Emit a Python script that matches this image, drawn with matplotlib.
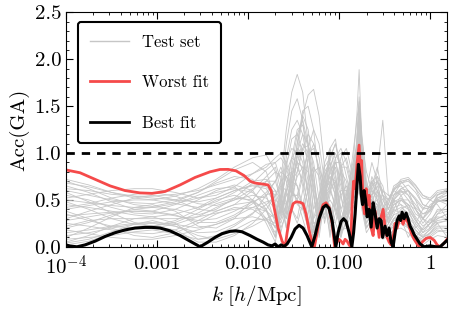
import numpy as np
import matplotlib
matplotlib.use("Agg")
import matplotlib.pyplot as plt
from matplotlib.ticker import FixedLocator, FixedFormatter, MultipleLocator

plt.rcParams['font.family'] = 'serif'
plt.rcParams['font.serif'] = ['cmr10']
plt.rcParams['mathtext.fontset'] = 'cm'
plt.rcParams['axes.formatter.use_mathtext'] = True

# log10(k) nodes shared by the test-set curves
test_logk = [-4.00, -3.75, -3.50, -3.25, -3.05, -2.80, -2.55, -2.35, -2.15, -1.95, -1.80,
             -1.70, -1.64, -1.58, -1.52, -1.46, -1.40, -1.34, -1.28, -1.22, -1.16,
             -1.10, -1.04, -0.98, -0.92, -0.86, -0.81, -0.78, -0.75, -0.70, -0.64,
             -0.58, -0.52, -0.46, -0.40, -0.32, -0.24, -0.16, -0.08, 0.00, 0.08, 0.19]

# test set accuracies (one row per curve)
test_acc = [
    [0.70,0.62,0.52,0.45,0.43,0.48,0.58,0.68,0.75,0.72,0.55, 0.25,0.70,1.25,1.65,1.84,1.65,1.10,0.30,0.40,0.80,0.90,0.60,0.10,0.50,0.80,0.90,1.20,0.80,0.40,0.70,0.50,0.20,0.50,0.60,0.55,0.40,0.20,0.30,0.45,0.50,0.45],
    [0.30,0.38,0.45,0.52,0.55,0.50,0.40,0.38,0.45,0.60,0.75, 0.85,0.60,0.20,0.50,1.00,1.40,1.62,1.68,1.40,0.85,0.20,0.45,0.85,0.95,0.70,0.60,1.30,0.90,0.50,0.20,0.35,0.60,0.55,0.50,0.30,0.10,0.25,0.40,0.50,0.45,0.30],
    [0.55,0.50,0.42,0.36,0.35,0.40,0.50,0.60,0.66,0.60,0.40, 0.10,0.55,1.10,1.45,1.58,1.35,0.80,0.15,0.50,0.90,1.05,0.80,0.30,0.40,0.90,1.30,1.89,1.10,0.60,0.90,0.70,0.40,0.30,0.50,0.60,0.50,0.35,0.30,0.40,0.55,0.60],
    [0.10,0.20,0.32,0.42,0.45,0.38,0.22,0.20,0.30,0.50,0.70, 0.80,0.75,0.45,0.70,1.10,1.40,1.25,0.80,0.20,0.55,0.95,1.10,0.80,0.35,0.60,0.95,1.40,1.00,0.50,0.30,0.60,0.45,0.25,0.40,0.55,0.60,0.50,0.30,0.20,0.35,0.45],
    [0.65,0.58,0.48,0.40,0.38,0.45,0.55,0.62,0.64,0.50,0.25, 0.05,0.40,0.85,1.15,1.20,1.00,0.55,0.05,0.45,0.75,0.85,0.60,0.15,0.55,0.80,1.00,1.35,0.85,0.40,0.65,0.85,0.55,0.25,0.35,0.50,0.45,0.30,0.15,0.25,0.40,0.40],
    [0.05,0.12,0.22,0.30,0.32,0.25,0.08,0.12,0.22,0.35,0.55, 0.70,0.85,0.70,0.40,0.30,0.60,0.95,1.10,0.95,0.55,0.10,0.50,0.80,0.70,0.40,0.80,1.10,0.70,0.30,0.55,0.40,0.15,0.35,0.50,0.45,0.30,0.10,0.20,0.30,0.25,0.10],
    [0.45,0.42,0.38,0.34,0.32,0.35,0.42,0.52,0.60,0.65,0.62, 0.45,0.20,0.35,0.80,1.05,1.00,0.70,0.25,0.30,0.70,1.00,0.95,0.55,0.20,0.65,1.05,1.55,0.95,0.45,0.75,0.60,0.30,0.45,0.65,0.70,0.60,0.40,0.25,0.35,0.50,0.55],
    [0.25,0.22,0.18,0.15,0.14,0.18,0.28,0.38,0.45,0.48,0.40, 0.20,0.50,0.80,0.95,0.90,0.65,0.30,0.10,0.40,0.65,0.75,0.55,0.20,0.35,0.60,0.75,0.95,0.70,0.30,0.50,0.40,0.20,0.30,0.40,0.35,0.25,0.15,0.10,0.20,0.30,0.35],
    [0.60,0.55,0.50,0.47,0.46,0.50,0.58,0.70,0.82,0.90,0.80, 0.50,0.15,0.40,0.85,1.20,1.35,1.10,0.60,0.15,0.60,1.05,1.15,0.75,0.25,0.70,1.10,1.60,1.20,0.70,0.40,0.75,0.65,0.40,0.55,0.68,0.72,0.62,0.45,0.42,0.55,0.62],
    [0.15,0.18,0.22,0.25,0.26,0.24,0.20,0.24,0.32,0.42,0.48, 0.50,0.45,0.30,0.55,0.75,0.85,0.80,0.55,0.25,0.35,0.60,0.70,0.55,0.30,0.45,0.70,0.85,0.60,0.35,0.45,0.50,0.35,0.20,0.30,0.40,0.45,0.40,0.30,0.25,0.30,0.35],
    [0.38,0.30,0.20,0.12,0.10,0.15,0.25,0.35,0.42,0.40,0.30, 0.15,0.35,0.60,0.70,0.65,0.45,0.20,0.15,0.35,0.55,0.60,0.45,0.15,0.25,0.45,0.60,0.80,0.55,0.25,0.40,0.30,0.15,0.20,0.30,0.30,0.20,0.10,0.05,0.15,0.25,0.28],
    [0.02,0.06,0.14,0.20,0.22,0.18,0.05,0.05,0.12,0.25,0.40, 0.55,0.70,0.75,0.65,0.45,0.40,0.60,0.80,0.85,0.65,0.30,0.25,0.55,0.65,0.50,0.55,0.75,0.55,0.20,0.30,0.25,0.10,0.15,0.25,0.28,0.22,0.12,0.08,0.12,0.18,0.15],
    [0.50,0.47,0.44,0.42,0.42,0.46,0.52,0.58,0.62,0.58,0.45, 0.30,0.55,0.95,1.25,1.35,1.20,0.85,0.40,0.55,0.85,0.95,0.75,0.40,0.55,0.85,1.05,1.20,0.90,0.55,0.60,0.55,0.35,0.40,0.55,0.60,0.55,0.45,0.35,0.38,0.48,0.52],
    [0.20,0.26,0.34,0.40,0.42,0.40,0.34,0.40,0.52,0.68,0.82, 0.90,0.95,0.85,0.60,0.50,0.75,1.05,1.25,1.10,0.70,0.30,0.60,0.95,1.05,0.80,0.90,1.15,0.85,0.45,0.70,0.60,0.40,0.50,0.62,0.65,0.55,0.40,0.30,0.38,0.50,0.48],
    [0.72,0.66,0.58,0.52,0.50,0.54,0.62,0.72,0.85,0.95,0.98, 0.80,0.45,0.20,0.60,1.00,1.20,1.10,0.75,0.35,0.45,0.85,1.00,0.85,0.50,0.60,0.95,1.25,0.95,0.60,0.70,0.75,0.55,0.45,0.60,0.70,0.72,0.65,0.55,0.50,0.58,0.60],
    [0.08,0.10,0.12,0.16,0.18,0.14,0.08,0.10,0.18,0.28,0.30, 0.25,0.40,0.55,0.60,0.50,0.30,0.10,0.20,0.40,0.50,0.45,0.25,0.10,0.30,0.45,0.50,0.60,0.40,0.15,0.25,0.20,0.08,0.12,0.18,0.20,0.15,0.05,0.02,0.08,0.12,0.10],
    [0.33,0.35,0.37,0.38,0.37,0.33,0.28,0.30,0.38,0.48,0.55, 0.60,0.50,0.45,0.65,0.90,1.05,0.95,0.65,0.30,0.50,0.80,0.90,0.70,0.45,0.50,0.80,1.05,0.75,0.40,0.55,0.65,0.45,0.35,0.45,0.50,0.50,0.42,0.35,0.40,0.48,0.50],
    [0.58,0.48,0.36,0.26,0.22,0.26,0.36,0.46,0.52,0.50,0.38, 0.20,0.30,0.65,0.95,1.05,0.90,0.55,0.15,0.30,0.65,0.80,0.65,0.25,0.30,0.60,0.85,1.10,0.80,0.35,0.50,0.45,0.20,0.30,0.45,0.50,0.42,0.28,0.18,0.25,0.35,0.38],
    [0.40,0.44,0.48,0.50,0.50,0.46,0.42,0.48,0.58,0.70,0.72, 0.60,0.40,0.30,0.60,0.95,1.10,1.00,0.70,0.35,0.40,0.70,0.85,0.65,0.40,0.70,1.35,1.50,1.15,0.80,0.60,0.80,1.35,0.55,0.55,0.62,0.60,0.50,0.40,0.42,0.52,0.55],
    [0.12,0.15,0.20,0.24,0.25,0.22,0.15,0.16,0.24,0.36,0.45, 0.55,0.65,0.60,0.40,0.25,0.45,0.70,0.85,0.75,0.45,0.15,0.35,0.60,0.60,0.40,0.50,0.65,0.45,0.20,0.30,0.28,0.15,0.18,0.28,0.32,0.28,0.18,0.10,0.15,0.22,0.22],
    [0.48,0.40,0.30,0.24,0.22,0.28,0.40,0.50,0.55,0.48,0.30, 0.10,0.45,0.90,1.05,1.00,0.80,0.40,0.05,0.40,0.75,0.90,0.70,0.30,0.45,0.75,0.95,1.15,0.80,0.45,0.60,0.50,0.30,0.35,0.48,0.52,0.45,0.32,0.22,0.28,0.38,0.40],
    [0.28,0.32,0.36,0.38,0.38,0.34,0.26,0.26,0.34,0.46,0.58, 0.70,0.80,0.75,0.55,0.55,0.80,1.00,1.05,0.85,0.45,0.25,0.55,0.85,0.85,0.60,0.65,0.95,0.70,0.35,0.50,0.45,0.25,0.30,0.42,0.45,0.40,0.28,0.18,0.25,0.32,0.30],
    [0.62,0.60,0.56,0.54,0.54,0.56,0.60,0.66,0.72,0.78,0.85, 0.95,1.00,0.90,0.70,0.80,1.05,1.20,1.10,0.80,0.55,0.65,0.95,1.05,0.90,0.65,0.80,1.10,0.85,0.55,0.65,0.70,0.55,0.50,0.60,0.68,0.70,0.62,0.52,0.50,0.56,0.58],
    [0.18,0.14,0.10,0.08,0.08,0.12,0.18,0.24,0.30,0.32,0.28, 0.22,0.30,0.45,0.55,0.55,0.45,0.28,0.12,0.25,0.42,0.50,0.40,0.18,0.20,0.38,0.50,0.65,0.45,0.20,0.32,0.25,0.12,0.15,0.22,0.25,0.20,0.12,0.06,0.10,0.16,0.18],
    [0.52,0.56,0.60,0.62,0.62,0.58,0.52,0.55,0.64,0.78,0.88, 0.90,0.70,0.35,0.45,0.80,1.05,1.08,0.90,0.50,0.30,0.65,0.90,0.90,0.60,0.45,0.85,1.30,1.00,0.65,0.55,0.70,0.60,0.50,0.62,0.72,0.74,0.66,0.55,0.52,0.60,0.62],
    [0.04,0.08,0.16,0.24,0.28,0.22,0.12,0.08,0.14,0.22,0.30, 0.35,0.55,0.75,0.80,0.65,0.40,0.20,0.30,0.55,0.70,0.65,0.40,0.20,0.40,0.60,0.65,0.70,0.50,0.25,0.35,0.30,0.15,0.20,0.30,0.34,0.28,0.18,0.10,0.14,0.20,0.20],
    [0.68,0.64,0.58,0.54,0.52,0.50,0.48,0.52,0.60,0.66,0.64, 0.55,0.35,0.55,0.95,1.25,1.30,1.05,0.55,0.10,0.50,0.95,1.10,0.85,0.40,0.55,0.95,1.45,1.05,0.60,0.55,0.70,0.55,0.40,0.52,0.62,0.66,0.58,0.45,0.42,0.52,0.58],
    [0.35,0.28,0.22,0.20,0.20,0.24,0.32,0.42,0.50,0.55,0.52, 0.40,0.25,0.45,0.75,0.90,0.85,0.60,0.25,0.25,0.55,0.75,0.70,0.40,0.25,0.55,0.85,1.00,0.70,0.35,0.45,0.45,0.25,0.28,0.38,0.42,0.36,0.25,0.15,0.20,0.28,0.30],
    [0.42,0.46,0.52,0.56,0.58,0.54,0.46,0.44,0.50,0.62,0.70, 0.70,0.50,0.35,0.70,1.10,1.45,1.50,1.25,0.70,0.25,0.55,0.95,1.00,0.75,0.50,0.80,1.20,0.90,0.55,0.50,0.60,0.50,0.40,0.50,0.58,0.60,0.52,0.42,0.40,0.48,0.52],
    [0.22,0.28,0.30,0.30,0.30,0.30,0.32,0.36,0.40,0.42,0.38, 0.30,0.40,0.60,0.80,0.85,0.70,0.45,0.20,0.35,0.60,0.70,0.55,0.25,0.35,0.60,0.75,0.90,0.65,0.30,0.45,0.38,0.20,0.24,0.34,0.38,0.32,0.22,0.12,0.18,0.26,0.28],
]

# worst fit
worst_logk = [-4.000, -3.846, -3.681, -3.516, -3.352, -3.187, -3.055, -2.912, -2.747, -2.582,
              -2.418, -2.308, -2.220, -2.132, -2.044, -1.978, -1.923, -1.846, -1.780, -1.747,
              -1.714, -1.670, -1.626, -1.593, -1.571, -1.538, -1.505, -1.473, -1.429, -1.396,
              -1.363, -1.330, -1.297, -1.271, -1.242, -1.209, -1.176, -1.143, -1.110, -1.077,
              -1.049, -1.022, -1.000, -0.978, -0.956, -0.934, -0.912, -0.890, -0.874, -0.857,
              -0.841, -0.824, -0.802, -0.780, -0.764, -0.753, -0.736, -0.720, -0.703, -0.687,
              -0.670, -0.648, -0.626, -0.604, -0.582, -0.560, -0.538, -0.516, -0.495, -0.473,
              -0.451, -0.429, -0.407, -0.385, -0.363, -0.341, -0.319, -0.297, -0.275, -0.253,
              -0.231, -0.209, -0.176, -0.143, -0.121, -0.088, -0.044, 0.000, 0.044, 0.077,
              0.110, 0.154, 0.187]
worst_acc = [0.82, 0.79, 0.72, 0.65, 0.60, 0.575, 0.57, 0.59, 0.66, 0.74,
             0.80, 0.825, 0.826, 0.81, 0.76, 0.70, 0.68, 0.67, 0.66, 0.60,
             0.42, 0.20, 0.06, 0.0, 0.15, 0.35, 0.46, 0.48, 0.475, 0.46,
             0.35, 0.18, 0.05, 0.0, 0.15, 0.35, 0.45, 0.47, 0.42, 0.25,
             0.0, 0.05, 0.08, 0.06, 0.03, 0.08, 0.06, 0.02, 0.0, 0.45,
             0.70, 0.62, 0.90, 1.085, 0.80, 0.92, 0.45, 0.35, 0.62, 0.45,
             0.55, 0.20, 0.12, 0.38, 0.25, 0.10, 0.32, 0.40, 0.20, 0.10,
             0.05, 0.02, 0.10, 0.25, 0.20, 0.28, 0.30, 0.24, 0.30, 0.28,
             0.22, 0.15, 0.08, 0.03, 0.0, 0.05, 0.09, 0.10, 0.07, 0.02,
             0.0, 0.04, 0.08]

# best fit
best_logk = [-4.000, -3.956, -3.879, -3.791, -3.681, -3.571, -3.462, -3.352, -3.242, -3.132,
             -3.055, -2.967, -2.857, -2.747, -2.637, -2.527, -2.440, -2.363, -2.286, -2.198,
             -2.132, -2.066, -1.978, -1.901, -1.835, -1.780, -1.736, -1.703, -1.670, -1.637,
             -1.604, -1.571, -1.527, -1.484, -1.440, -1.396, -1.352, -1.300, -1.264, -1.220,
             -1.176, -1.143, -1.110, -1.077, -1.036, -1.011, -0.978, -0.951, -0.923, -0.890,
             -0.860, -0.841, -0.824, -0.808, -0.788, -0.769, -0.758, -0.742, -0.725, -0.709,
             -0.692, -0.670, -0.648, -0.626, -0.604, -0.582, -0.560, -0.538, -0.522, -0.495,
             -0.473, -0.451, -0.429, -0.407, -0.385, -0.363, -0.341, -0.324, -0.308, -0.286,
             -0.264, -0.242, -0.220, -0.198, -0.176, -0.143, -0.110, -0.066, 0.000, 0.066,
             0.110, 0.154, 0.187]
best_acc = [0.02, 0.008, 0.0, 0.02, 0.06, 0.11, 0.15, 0.18, 0.20, 0.207,
            0.207, 0.20, 0.17, 0.12, 0.06, 0.0, 0.05, 0.10, 0.14, 0.165,
            0.17, 0.16, 0.12, 0.08, 0.05, 0.02, 0.01, 0.03, 0.0, 0.02,
            0.005, 0.03, 0.10, 0.19, 0.23, 0.20, 0.12, 0.0, 0.12, 0.30,
            0.42, 0.445, 0.41, 0.28, 0.0, 0.15, 0.27, 0.30, 0.27, 0.15,
            0.0, 0.15, 0.35, 0.60, 0.88, 0.75, 0.57, 0.45, 0.60, 0.50,
            0.32, 0.40, 0.21, 0.47, 0.35, 0.20, 0.30, 0.28, 0.10, 0.22,
            0.12, 0.20, 0.05, 0.0, 0.15, 0.28, 0.33, 0.28, 0.37, 0.30,
            0.36, 0.30, 0.22, 0.18, 0.13, 0.08, 0.03, 0.0, 0.01, 0.0,
            0.0, 0.04, 0.07]

fig = plt.figure(figsize=(4.49, 3.12), dpi=100)
ax = fig.add_axes([0.147, 0.209, 0.849, 0.751])

k_test = 10 ** np.array(test_logk)
for i, row in enumerate(test_acc):
    ax.plot(k_test, row, color='#c6c6c6', lw=0.6,
            label='Test set' if i == 0 else None)
ax.plot(10 ** np.array(worst_logk), worst_acc, color='#f54a4a', lw=2.0, label='Worst fit')
ax.plot(10 ** np.array(best_logk), best_acc, color='black', lw=2.2, label='Best fit')
ax.axhline(1.0, color='black', lw=2.0, ls=(0, (3, 2.5)))

ax.set_xscale('log')
ax.set_xlim(1e-4, 1.54)
ax.set_ylim(0, 2.5)
ax.xaxis.set_major_locator(FixedLocator([1e-4, 1e-3, 1e-2, 1e-1, 1]))
ax.xaxis.set_major_formatter(FixedFormatter([r'$10^{-4}$', '0.001', '0.010', '0.100', '1']))
ax.yaxis.set_major_locator(MultipleLocator(0.5))
ax.yaxis.set_minor_locator(MultipleLocator(0.1))
ax.yaxis.set_major_formatter(plt.FormatStrFormatter('%.1f'))
ax.tick_params(which='both', direction='in', top=True, right=True, labelsize=15)
ax.tick_params(which='major', length=5, width=0.8)
ax.tick_params(which='minor', length=2.5, width=0.6)
ax.tick_params(axis='x', which='major', pad=6)

ax.set_xlabel(r'$k\ [h/\mathrm{Mpc}]$', fontsize=15, labelpad=3)
ax.set_ylabel('Acc(GA)', fontsize=15, labelpad=4)

leg = ax.legend(loc='upper left', bbox_to_anchor=(0.031, 0.96), borderaxespad=0,
                fontsize=12, labelspacing=1.52, handlelength=2.3, handletextpad=0.8,
                borderpad=0.75, fancybox=True, framealpha=1, edgecolor='black')
leg.get_frame().set_linewidth(1.5)
for line in leg.get_lines():
    line.set_linewidth(2.0)
leg.get_lines()[0].set_linewidth(1.0)

fig.savefig('out.png', dpi=100)
